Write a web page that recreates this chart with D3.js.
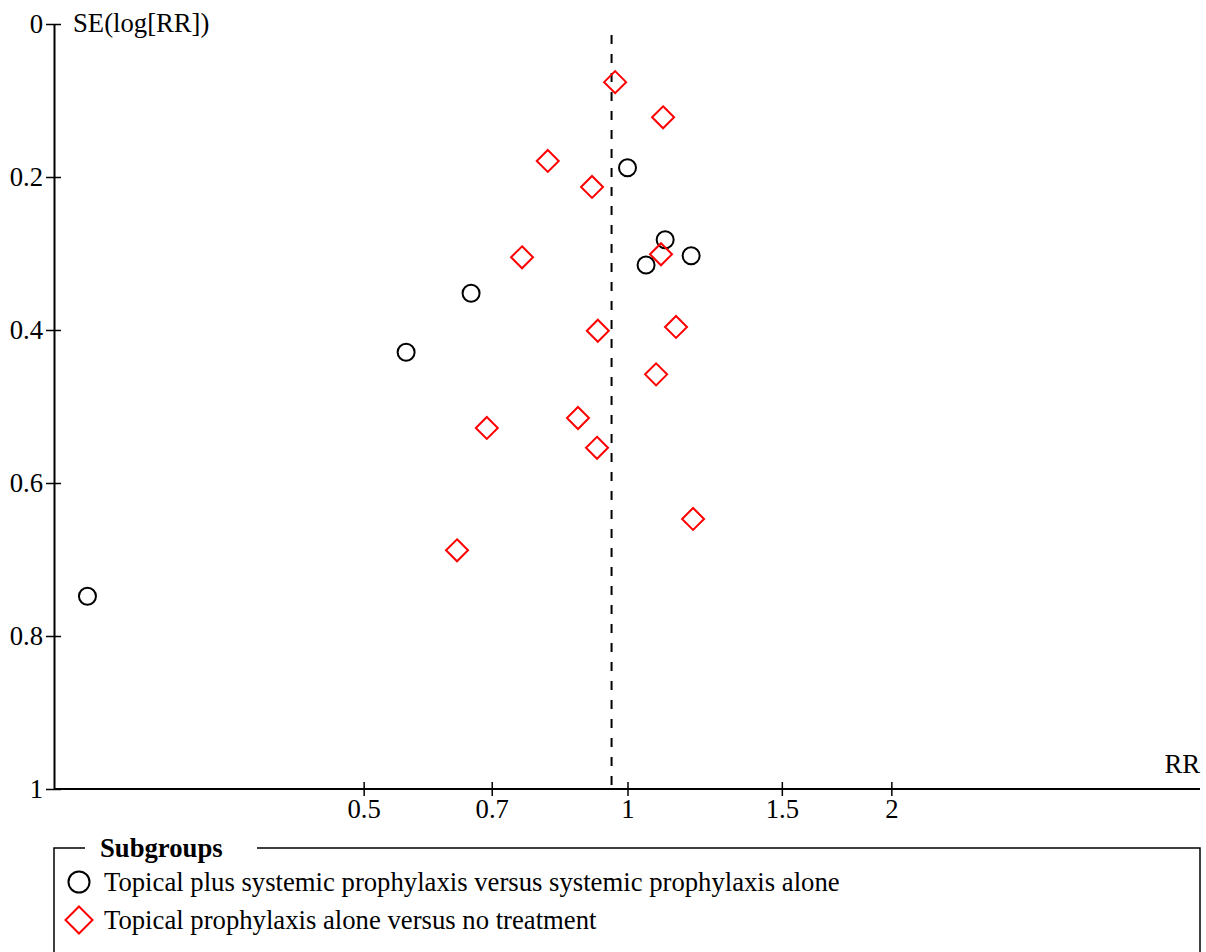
<!DOCTYPE html>
<html>
<head>
<meta charset="utf-8">
<script src="https://cdn.jsdelivr.net/npm/d3@7"></script>
<style>
body { margin: 0; background: #fff; }
text { font-family: "Liberation Serif", "Times New Roman", serif; font-size: 26.7px; fill: #000; }
</style>
</head>
<body>
<script>
// Funnel plot: RR (log scale) against SE(log[RR]).

var width = 1206,
    height = 952,
    fontSize = '26.7px';

// Subgroup 1: topical plus systemic vs systemic alone (circles)
var combinedRR = [1.00, 1.104, 1.182, 1.05, 0.663, 0.559, 0.242];
var combinedSE = [0.188, 0.282, 0.303, 0.315, 0.352, 0.429, 0.748];

// Subgroup 2: topical alone vs no treatment (diamonds)
var topicalRR = [0.968, 1.098, 0.811, 0.911, 0.758, 1.092, 0.925, 1.136, 1.078, 0.878, 0.691, 0.923, 1.188, 0.639];
var topicalSE = [0.076, 0.122, 0.179, 0.213, 0.305, 0.301, 0.401, 0.396, 0.458, 0.515, 0.528, 0.554, 0.647, 0.688];

var pooledRR = 0.959;

var xTicks = [0.5, 0.7, 1, 1.5, 2];
var yTicks = [0, 0.2, 0.4, 0.6, 0.8, 1];

var legendLabels = [
    'Topical plus systemic prophylaxis versus systemic prophylaxis alone',
    'Topical prophylaxis alone versus no treatment'
];

var svg = d3.select('body').append('svg')
    .attr('width', width)
    .attr('height', height);

var xs = d3.scaleLog()
    .domain([1 / 4.5, 4.5])
    .range([55, 1200]);

var ys = d3.scaleLinear()
    .domain([0, 1])
    .range([24, 789]);

// y axis
var yAxis = svg.append('g')
    .attr('transform', 'translate(54,0)')
    .call(d3.axisLeft(ys).tickValues(yTicks).tickSizeInner(7).tickSizeOuter(0)
        .tickFormat(function(d) { return d === 0 || d === 1 ? String(d) : d3.format('.1f')(d); }));
yAxis.select('.domain').attr('stroke-width', 2);
yAxis.selectAll('.tick line').attr('x2', 7).attr('x1', -8).attr('stroke-width', 1.5);
yAxis.selectAll('.tick text').attr('x', -11)
    .style('font-size', fontSize).style('font-family', 'Liberation Serif');

// x axis
var xAxis = svg.append('g')
    .attr('transform', 'translate(0,789)')
    .call(d3.axisBottom(xs).tickValues(xTicks).tickSizeOuter(0)
        .tickFormat(function(d) { return String(d); }));
xAxis.select('.domain').attr('d', 'M' + 54 + ',0H1200').attr('stroke-width', 2);
xAxis.selectAll('.tick line').attr('y1', -7).attr('y2', 7).attr('stroke-width', 1.5);
xAxis.selectAll('.tick text').attr('y', 10)
    .style('font-size', fontSize).style('font-family', 'Liberation Serif');

svg.append('text')
    .attr('x', 73)
    .attr('y', 32)
    .text('SE(log[RR])');

svg.append('text')
    .attr('x', 1200)
    .attr('y', 773)
    .attr('text-anchor', 'end')
    .text('RR');

// pooled estimate line
svg.append('line')
    .attr('x1', xs(pooledRR))
    .attr('x2', xs(pooledRR))
    .attr('y1', 35)
    .attr('y2', ys(1))
    .attr('stroke', '#000')
    .attr('stroke-width', 2)
    .attr('stroke-dasharray', '9,10');

// points
var diamond = function(r) {
    return 'M0,' + (-r) + 'L' + r + ',0L0,' + r + 'L' + (-r) + ',0Z';
};

svg.append('g').selectAll('circle')
    .data(d3.range(combinedRR.length))
    .enter()
    .append('circle')
    .attr('cx', function(i) { return xs(combinedRR[i]); })
    .attr('cy', function(i) { return ys(combinedSE[i]); })
    .attr('r', 8.5)
    .attr('fill', 'none')
    .attr('stroke', '#000')
    .attr('stroke-width', 2);

svg.append('g').selectAll('path')
    .data(d3.range(topicalRR.length))
    .enter()
    .append('path')
    .attr('transform', function(i) { return 'translate(' + xs(topicalRR[i]) + ',' + ys(topicalSE[i]) + ')'; })
    .attr('d', diamond(11))
    .attr('fill', 'none')
    .attr('stroke', '#f00')
    .attr('stroke-width', 2);

// legend
var legend = svg.append('g');

legend.append('path')
    .attr('d', 'M85,848H54V960M257,848H1200V960')
    .attr('fill', 'none')
    .attr('stroke', '#000')
    .attr('stroke-width', 1.5);

legend.append('text')
    .attr('x', 100)
    .attr('y', 857)
    .style('font-weight', 'bold')
    .text('Subgroups');

legend.append('circle')
    .attr('cx', 79)
    .attr('cy', 882)
    .attr('r', 10.5)
    .attr('fill', 'none')
    .attr('stroke', '#000')
    .attr('stroke-width', 2);

legend.append('path')
    .attr('transform', 'translate(79,920)')
    .attr('d', diamond(13.5))
    .attr('fill', 'none')
    .attr('stroke', '#f00')
    .attr('stroke-width', 2);

legend.selectAll('.label')
    .data(legendLabels)
    .enter()
    .append('text')
    .classed('label', true)
    .attr('x', 104)
    .attr('y', function(d, i) { return 891 + 38 * i; })
    .text(function(d) { return d; });
</script>
</body>
</html>
